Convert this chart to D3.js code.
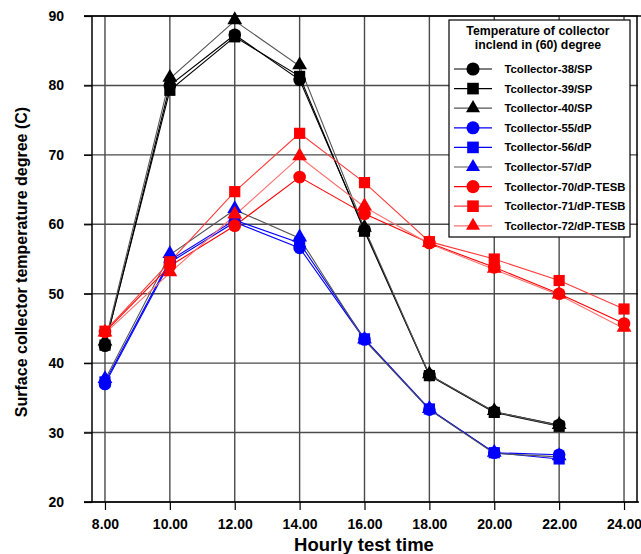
<!DOCTYPE html>
<html lang="en">
<head>
<title>Collector temperature</title>
<meta charset="utf-8">
<script src="https://cdn.jsdelivr.net/npm/d3@7"></script>
<style>
	body { margin: 0; background: #fff; }
	text { font-family: Arial, "Liberation Sans", sans-serif; font-weight: bold; }
</style>
</head>
<body>
<div id="chart"></div>
<script>
	// data
	var hours = [8, 10, 12, 14, 16, 18, 20, 22, 24];
	var xTicks = [8, 10, 12, 14, 16, 18, 20, 22, 24];
	var yTicks = [20, 30, 40, 50, 60, 70, 80, 90];
	var names = ["Tcollector-38/SP", "Tcollector-39/SP", "Tcollector-40/SP",
		"Tcollector-55/dP", "Tcollector-56/dP", "Tcollector-57/dP",
		"Tcollector-70/dP-TESB", "Tcollector-71/dP-TESB", "Tcollector-72/dP-TESB"];
	var t38 = [42.5, 80.0, 87.3, 80.8, 59.2, 38.3, 33.0, 31.1];
	var t39 = [42.6, 79.3, 87.0, 81.3, 59.0, 38.2, 32.9, 30.9];
	var t40 = [43.0, 81.0, 89.3, 82.8, 59.4, 38.3, 33.0, 31.0];
	var t55 = [37.0, 54.5, 60.3, 56.6, 43.4, 33.3, 27.1, 26.8];
	var t56 = [37.3, 54.8, 60.6, 57.3, 43.5, 33.4, 27.1, 26.2];
	var t57 = [37.6, 55.6, 62.1, 58.0, 43.3, 33.3, 27.0, 26.5];
	var t70 = [44.5, 54.0, 59.8, 66.8, 61.5, 57.3, 53.8, 50.0, 45.7];
	var t71 = [44.6, 54.6, 64.7, 73.1, 66.0, 57.5, 55.0, 51.9, 47.8];
	var t72 = [44.3, 53.0, 61.3, 69.7, 62.5, 57.2, 53.5, 49.8, 45.0];

	var seriesVals = [t38, t39, t40, t55, t56, t57, t70, t71, t72];
	var lineColor = ["#000", "#000", "#555", "#0000ff", "#0000ff", "#555", "#ff0000", "#ff3b3b", "#ff7070"];
	var fillColor = ["#000", "#000", "#000", "#0000ff", "#0000ff", "#0000ff", "#ff0000", "#ff0000", "#ff0000"];
	var shapes = [d3.symbolCircle, d3.symbolSquare, d3.symbolTriangle];

	var W = 641, H = 554;
	var svg = d3.select("#chart").append("svg")
		.attr("width", W)
		.attr("height", H);

	var x = d3.scaleLinear().domain([7.6, 24.4]).range([92, 637]);
	var y = d3.scaleLinear().domain([20, 90]).range([502, 16]);

	// grid
	svg.append("g").selectAll("line.vg")
		.data(xTicks).enter().append("line")
		.attr("x1", function(d) { return x(d); })
		.attr("x2", function(d) { return x(d); })
		.attr("y1", y(90)).attr("y2", y(20))
		.attr("stroke", "#4a4a4a").attr("stroke-width", 1.4);
	svg.append("g").selectAll("line.hg")
		.data(yTicks).enter().append("line")
		.attr("x1", 84).attr("x2", 638)
		.attr("y1", function(d) { return y(d); })
		.attr("y2", function(d) { return y(d); })
		.attr("stroke", "#4a4a4a").attr("stroke-width", 1.4);

	// axes
	var yAxis = d3.axisLeft(y).tickValues(yTicks).tickSize(8).tickPadding(20).tickFormat(d3.format("d"));
	var yMinor = d3.axisLeft(y).tickValues(d3.range(20, 90.1, 2.5)).tickSize(6).tickFormat("");
	var xAxis = d3.axisBottom(x).tickValues(xTicks).tickSize(8).tickPadding(9).tickFormat(d3.format(".2f"));
	var xMinor = d3.axisBottom(x).tickValues(d3.range(8, 24.1, 0.5)).tickSize(4).tickFormat("");

	var gy = svg.append("g").attr("transform", "translate(92,0)");
	gy.call(yMinor);
	gy.call(yAxis);
	var gx = svg.append("g").attr("transform", "translate(0,502)");
	gx.call(xMinor);
	gx.call(xAxis);
	svg.selectAll(".domain").remove();
	svg.selectAll(".tick line").attr("stroke", "#000").attr("stroke-width", 1.2);
	svg.selectAll(".tick text").attr("font-size", 14).attr("fill", "#000")
		.attr("font-family", "Arial, 'Liberation Sans', sans-serif").attr("font-weight", "bold");

	// frame
	svg.append("line").attr("x1", 92).attr("x2", 92).attr("y1", 16).attr("y2", 502).attr("stroke", "#000").attr("stroke-width", 1.5);
	svg.append("line").attr("x1", 84).attr("x2", 639).attr("y1", 502).attr("y2", 502).attr("stroke", "#000").attr("stroke-width", 1.5);
	svg.append("line").attr("x1", 84).attr("x2", 641).attr("y1", 16).attr("y2", 16).attr("stroke", "#000").attr("stroke-width", 1.5);
	svg.append("line").attr("x1", 637).attr("x2", 637).attr("y1", 16).attr("y2", 502).attr("stroke", "#000").attr("stroke-width", 1.5);

	// series
	var line = d3.line()
		.x(function(d, i) { return x(hours[i]); })
		.y(function(d) { return y(d); });

	var order = [0, 1, 2, 3, 4, 5, 6, 7, 8];
	order.forEach(function(k) {
		svg.append("path")
			.attr("d", line(seriesVals[k]))
			.attr("fill", "none")
			.attr("stroke", lineColor[k])
			.attr("stroke-width", 1.1);
	});
	order.forEach(function(k) {
		var sym = d3.symbol().type(shapes[k % 3]).size(k % 3 == 2 ? 95 : 125);
		svg.append("g").selectAll("path")
			.data(seriesVals[k]).enter().append("path")
			.attr("d", sym)
			.attr("transform", function(d, i) {
				var dy = k % 3 == 2 ? -1 : 0;
				return "translate(" + x(hours[i]) + "," + (y(d) + dy) + ")";
			})
			.attr("fill", fillColor[k]);
	});

	// legend
	var lg = svg.append("g").attr("transform", "translate(449,20)");
	lg.append("rect").attr("width", 181).attr("height", 217)
		.attr("fill", "#fff").attr("stroke", "#000").attr("stroke-width", 1.2);
	lg.append("text").attr("x", 89).attr("y", 15).attr("text-anchor", "middle")
		.attr("font-size", 12.3).text("Temperature of collector");
	lg.append("text").attr("x", 89).attr("y", 29).attr("text-anchor", "middle")
		.attr("font-size", 12.3).text("inclend in (60) degree");
	var items = lg.selectAll("g.item").data(names).enter().append("g")
		.attr("transform", function(d, i) { return "translate(0," + (49 + i * 19.6) + ")"; });
	items.append("line").attr("x1", 5).attr("x2", 43).attr("y1", 0).attr("y2", 0)
		.attr("stroke", function(d, i) { return lineColor[i]; }).attr("stroke-width", 1.2);
	items.append("path")
		.attr("d", function(d, i) { return d3.symbol().type(shapes[i % 3]).size(i % 3 == 2 ? 85 : 135)(); })
		.attr("transform", "translate(24,0)")
		.attr("fill", function(d, i) { return fillColor[i]; });
	items.append("text").attr("x", 55.5).attr("y", 4).attr("font-size", 11.3)
		.text(function(d) { return d; });

	// axis titles
	svg.append("text").attr("x", 364).attr("y", 551).attr("text-anchor", "middle")
		.attr("font-size", 18.5).text("Hourly test time");
	svg.append("text").attr("transform", "translate(27,262) rotate(-90)")
		.attr("text-anchor", "middle").attr("font-size", 16)
		.text("Surface collector temperature degree (C)");
</script>
</body>
</html>
